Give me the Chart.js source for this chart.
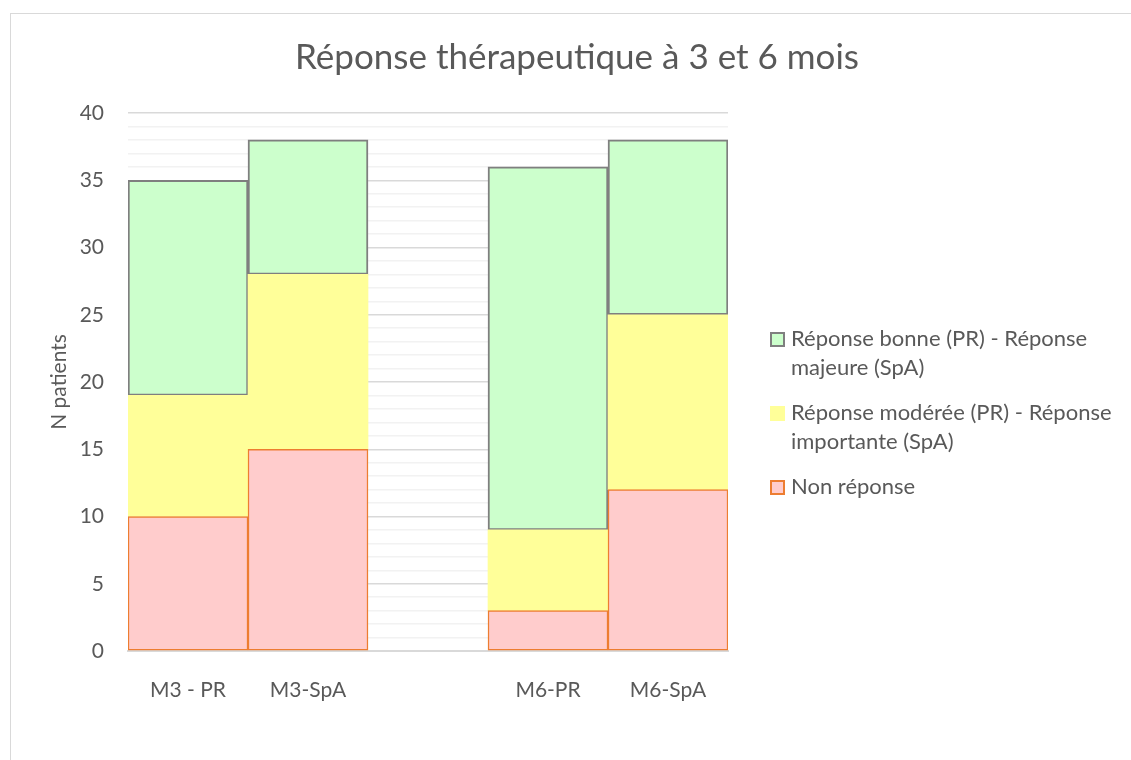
<!DOCTYPE html>
<html>
<head>
<meta charset="utf-8">
<script src="https://cdn.jsdelivr.net/npm/chart.js@4"></script>
<style>
  body { margin: 0; background: #fff; }
  #wrap { position: relative; width: 1131px; height: 760px; overflow: hidden; }
  #cadre { position: absolute; left: 10px; top: 13px; width: 1140px; height: 760px; border: 1px solid #d9d9d9; box-sizing: border-box; }
  #graphe { position: absolute; left: 0; top: 0; }
  #legende { position: absolute; left: 770px; top: 323px; width: 355px; font-family: Lato, sans-serif; font-size: 22px; color: #595959; line-height: 29px; }
  .item { display: flex; align-items: flex-start; margin-bottom: 16px; }
  .carre { width: 11px; height: 11px; margin-top: 9px; margin-right: 6px; flex: none; border: 2px solid; }
</style>
</head>
<body>
<div id="wrap">
  <div id="cadre"></div>
  <canvas id="graphe" width="1131" height="760"></canvas>
  <div id="legende"></div>
</div>
<script>
// ---------------------------------------------------------------------------- D O N N E E S
const categories = ['M3 - PR', 'M3-SpA', '', 'M6-PR', 'M6-SpA'];
const nonReponse = [10, 15, null, 3, 12];
const reponseModeree = [9, 13, null, 6, 13];
const reponseBonne = [16, 10, null, 27, 13];
const yTicks = [0, 5, 10, 15, 20, 25, 30, 35, 40];

const titre = 'Réponse thérapeutique à 3 et 6 mois';
const textColor = '#595959';

const datasets = [
    {
        label: 'Non réponse',
        data: nonReponse,
        backgroundColor: '#ffcccc',
        borderColor: '#ed7d31',
        borderWidth: 1.5,
        borderSkipped: false
    },
    {
        label: 'Réponse modérée (PR) - Réponse importante (SpA)',
        data: reponseModeree,
        backgroundColor: '#ffff99',
        borderColor: '#ffff99',
        borderWidth: 0,
        borderSkipped: false
    },
    {
        label: 'Réponse bonne (PR) - Réponse majeure (SpA)',
        data: reponseBonne,
        backgroundColor: '#ccffcc',
        borderColor: '#7f7f7f',
        borderWidth: 2,
        borderSkipped: false
    }
];

// Titre centré sur le cadre complet (pas seulement sur la zone du graphique)
const titrePlugin = {
    id: 'titreCentre',
    afterDraw(chart) {
        const c = chart.ctx;
        c.save();
        c.fillStyle = textColor;
        c.font = '35px Lato';
        c.textAlign = 'center';
        c.textBaseline = 'alphabetic';
        c.fillText(titre, 577, 69);
        c.restore();
    }
};

const ctx = document.getElementById('graphe').getContext('2d');
const myChart = new Chart(ctx, {
    type: 'bar',
    data: { labels: categories, datasets: datasets },
    plugins: [titrePlugin],
    options: {
        responsive: false,
        animation: false,
        layout: {
            padding: { left: 47, right: 403, top: 113, bottom: 49 }
        },
        plugins: {
            legend: { display: false },
            tooltip: { enabled: false },
            title: { display: false }
        },
        datasets: {
            bar: { barPercentage: 1, categoryPercentage: 1 }
        },
        scales: {
            x: {
                stacked: true,
                grid: { display: false },
                border: { color: '#d9d9d9', width: 2 },
                afterFit: (s) => { s.height = 60; },
                ticks: {
                    color: textColor,
                    font: { family: 'Lato', size: 21 },
                    padding: 19,
                    maxRotation: 0
                }
            },
            y: {
                stacked: true,
                min: 0,
                max: 40,
                border: { display: false },
                afterFit: (s) => { s.width = 81; },
                grid: {
                    drawTicks: false,
                    // lignes principales tous les 5, secondaires à chaque unité
                    color: (c) => yTicks.includes(c.tick.value) ? '#d9d9d9' : '#f2f2f2',
                    lineWidth: 1.5
                },
                ticks: {
                    stepSize: 1,
                    autoSkip: false,
                    color: textColor,
                    font: { family: 'Lato', size: 21 },
                    padding: 24,
                    callback: (v) => yTicks.includes(v) ? v : ''
                },
                title: {
                    display: true,
                    text: 'N patients',
                    color: textColor,
                    font: { family: 'Lato', size: 21 },
                    padding: { top: 0, bottom: 0 }
                }
            }
        }
    }
});

// ---------------------------------------------------------------------------- L E G E N D E
const legende = document.getElementById('legende');
datasets.slice().reverse().forEach(ds => {
    const item = document.createElement('div');
    item.className = 'item';
    const carre = document.createElement('span');
    carre.className = 'carre';
    carre.style.background = ds.backgroundColor;
    carre.style.borderColor = ds.borderColor;
    const texte = document.createElement('span');
    texte.textContent = ds.label;
    item.appendChild(carre);
    item.appendChild(texte);
    legende.appendChild(item);
});
</script>
</body>
</html>
